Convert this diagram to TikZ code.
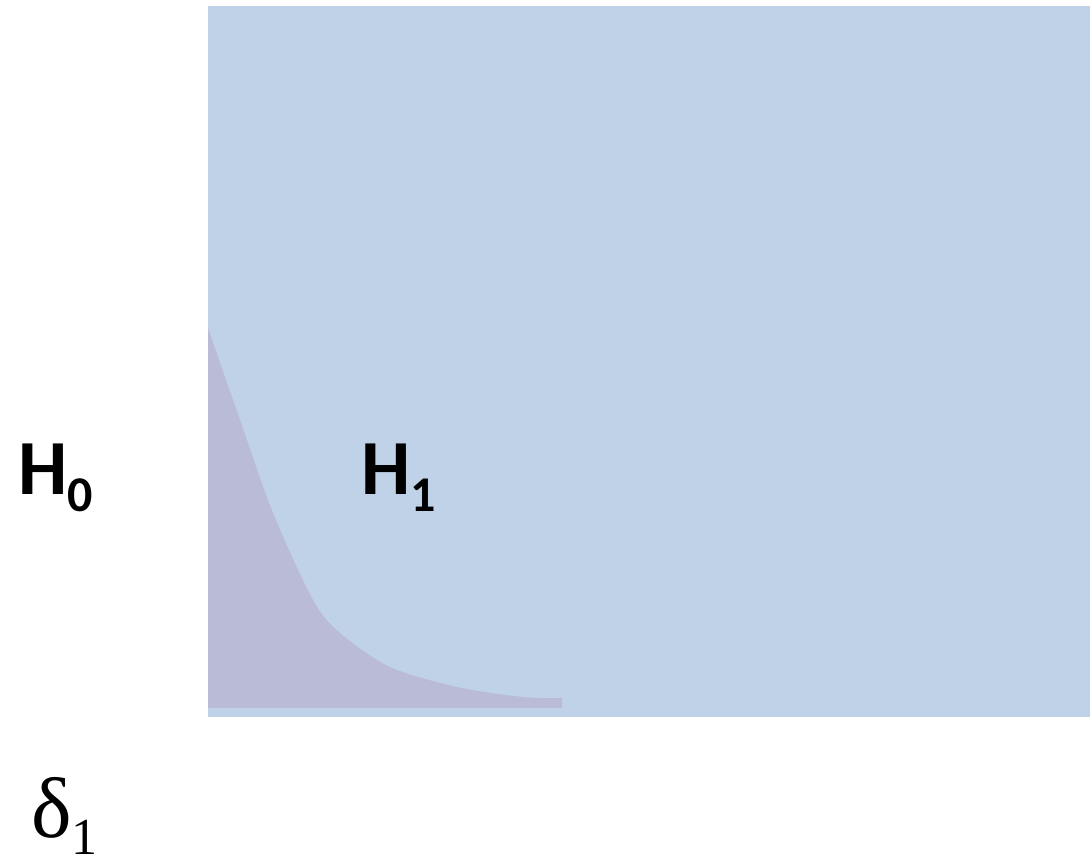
\documentclass[tikz,border=0pt]{standalone}
\usepackage{fontspec}
\setmainfont{Carlito}
\newfontfamily\serifgreek{Liberation Serif}
\definecolor{panelblue}{RGB}{192,210,231}
\definecolor{regionpurple}{RGB}{185,188,212}
\begin{document}
\begin{tikzpicture}[x=1pt,y=1pt,
  hlabel/.style={anchor=base west,inner sep=0pt,font=\bfseries\fontsize{78}{80}\selectfont},
  dlabel/.style={anchor=base west,inner sep=0pt,font=\serifgreek\fontsize{86}{88}\selectfont}]
\useasboundingbox (0,0) rectangle (1090,862);
\fill[white] (0,0) rectangle (1090,862);
\fill[panelblue] (208,145) rectangle (1090,856);
\fill[regionpurple] (208,154) -- (562,154) -- (562,164)
  -- plot[smooth] coordinates {(562,164) (523,165) (457,175) (390,195) (340,229) (313,262) (273,349) (240,442) (208,534)} -- cycle;
\node[hlabel] (h0) at (18,367) {H\raisebox{-17pt}{\fontsize{50}{50}\selectfont 0}};
\node[hlabel] (h1) at (361,367) {H\raisebox{-17pt}{\fontsize{50}{50}\selectfont 1}};
\node[dlabel] (d1) at (31,24) {δ\raisebox{-17pt}{\fontsize{52}{52}\selectfont 1}};
\end{tikzpicture}
\end{document}
